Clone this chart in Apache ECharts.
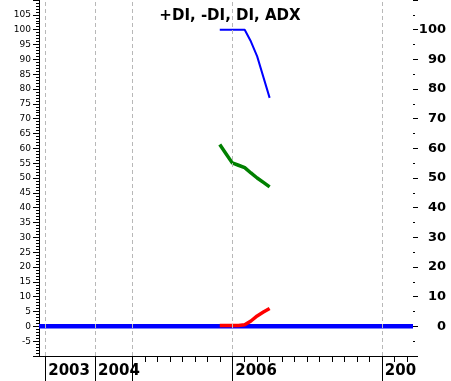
<!DOCTYPE html>
<html>
<head>
    <meta charset="utf-8">
    <title>+DI, -DI, DI, ADX</title>
    <script src="https://cdn.jsdelivr.net/npm/echarts@6/dist/echarts.min.js"></script>
    <style>
        html, body {margin: 0; padding: 0; background: #fff;}
        #chart {width: 451px; height: 381px;}
    </style>
</head>
<body>
<div id="chart"></div>
<script type="text/javascript">
    // x is measured in ticks of the time axis (one tick = one month after 2005)
    var yearTicks = [0, 4, 7, 15, 27];
    var yearLabels = ['2003', '2004', '', '2006', '200'];
    var monthTicks = [8, 9, 10, 11, 12, 13, 14, 16, 17, 18, 19, 20, 21, 22, 23, 24, 25, 26, 28, 29];

    var xPoints   = [14, 14.5, 15, 15.5, 16, 16.5, 17, 17.5, 18];
    var adx       = [100, 100, 100, 100, 100, 96, 91, 84, 77];
    var minusDi   = [61.3, 58.2, 55.1, 54.3, 53.5, 51.7, 50, 48.5, 47];
    var plusDi    = [0.3, 0.3, 0.3, 0.3, 0.5, 1.8, 3.5, 4.8, 6];
    var diX       = [-0.5, 29.5];
    var di        = [0, 0];

    function pairs(xs, ys) {
        return xs.map(function (x, i) { return [x, ys[i]]; });
    }

    var myChart = echarts.init(document.getElementById('chart'));

    var option = {
        animation: false,
        title: {
            text: '+DI, -DI, DI, ADX',
            left: 225,
            textAlign: 'center',
            top: 4,
            textStyle: {fontFamily: 'DejaVu Sans', fontWeight: 'bold', fontSize: 15, color: '#000'}
        },
        grid: {left: 39, right: 38, top: 0, bottom: 25},
        xAxis: [{
            type: 'value',
            min: -0.5,
            max: 29.5,
            position: 'bottom',
            axisLine: {onZero: false, lineStyle: {color: '#000', width: 1}},
            axisTick: {customValues: yearTicks, length: 25, lineStyle: {color: '#000'}},
            axisLabel: {
                customValues: yearTicks,
                formatter: function (v) {
                    var i = yearTicks.indexOf(v);
                    return i >= 0 ? yearLabels[i] : '';
                },
                align: 'left',
                verticalAlign: 'top',
                padding: [0, 0, 0, 3],
                margin: 8,
                color: '#000',
                fontFamily: 'DejaVu Sans',
                fontWeight: 'bold',
                fontSize: 15
            },
            splitLine: {show: false}
        }, {
            type: 'value',
            min: -0.5,
            max: 29.5,
            position: 'bottom',
            axisLine: {show: false, onZero: false},
            axisTick: {customValues: monthTicks, length: 6, lineStyle: {color: '#000'}},
            axisLabel: {show: false},
            splitLine: {show: false}
        }],
        yAxis: [{
            type: 'value',
            position: 'left',
            min: -10,
            max: 110,
            interval: 5,
            axisLine: {show: true, onZero: false, lineStyle: {color: '#000'}},
            axisTick: {show: true, length: 6, lineStyle: {color: '#000'}},
            minorTick: {show: true, splitNumber: 5, length: 3, lineStyle: {color: '#000'}},
            axisLabel: {
                showMinLabel: false,
                showMaxLabel: false,
                margin: 8,
                color: '#000',
                fontFamily: 'DejaVu Sans',
                fontSize: 9
            },
            splitLine: {show: false}
        }, {
            type: 'value',
            position: 'right',
            min: -10,
            max: 110,
            interval: 10,
            axisLine: {show: false, onZero: false},
            axisTick: {show: true, length: 5, lineStyle: {color: '#000'}},
            minorTick: {show: true, splitNumber: 2, length: 2, lineStyle: {color: '#000'}},
            axisLabel: {
                showMinLabel: false,
                showMaxLabel: false,
                align: 'right',
                margin: 33,
                color: '#000',
                fontFamily: 'DejaVu Sans',
                fontWeight: 'bold',
                fontSize: 13
            },
            splitLine: {show: false}
        }],
        series: [{
            name: 'grid',
            type: 'line',
            z: 1,
            data: [],
            markLine: {
                silent: true,
                symbol: ['none', 'none'],
                label: {show: false},
                lineStyle: {type: [4, 3], color: '#b8b8b8', width: 1},
                data: yearTicks.map(function (v) { return {xAxis: v}; })
            }
        }, {
            name: 'DI',
            type: 'line',
            z: 3,
            showSymbol: false,
            lineStyle: {color: '#0000ff', width: 4.5},
            data: pairs(diX, di)
        }, {
            name: '+DI',
            type: 'line',
            z: 4,
            showSymbol: false,
            lineStyle: {color: '#ff0000', width: 3.5},
            data: pairs(xPoints, plusDi)
        }, {
            name: '-DI',
            type: 'line',
            z: 4,
            showSymbol: false,
            lineStyle: {color: '#008000', width: 3.5},
            data: pairs(xPoints, minusDi)
        }, {
            name: 'ADX',
            type: 'line',
            z: 4,
            showSymbol: false,
            lineStyle: {color: '#0000ff', width: 2},
            data: pairs(xPoints, adx)
        }]
    };

    myChart.setOption(option);
</script>
</body>
</html>
